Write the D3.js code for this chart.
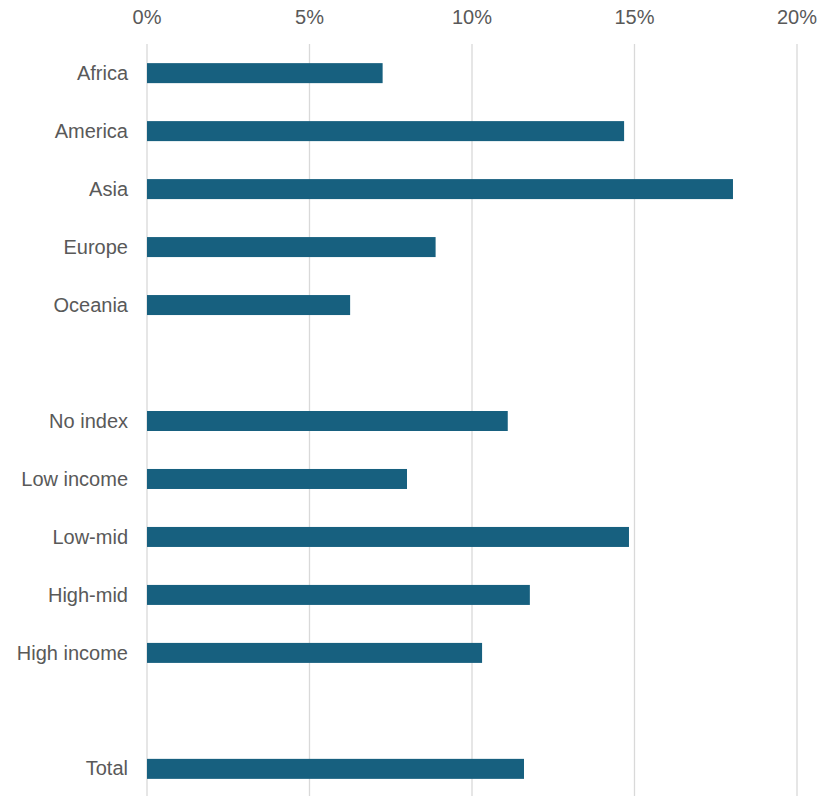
<!DOCTYPE html>
<html><head><meta charset="utf-8">
<script src="https://cdn.jsdelivr.net/npm/d3@7"></script>
<style>body{margin:0;background:#fff}</style>
</head><body>
<svg id="chart" width="830" height="796"></svg>
<script>
const categories = ["Africa","America","Asia","Europe","Oceania","","No index","Low income","Low-mid","High-mid","High income"," ","Total"];
const values = [7.25, 14.68, 18.03, 8.88, 6.25, null, 11.1, 8.0, 14.83, 11.78, 10.31, null, 11.6];
const tickValues = [0, 5, 10, 15, 20];

const svg = d3.select("#chart");
const x = d3.scaleLinear().domain([0, 20]).range([147, 797]);
const y = d3.scaleBand().domain(categories).range([44, 798]).paddingInner(0.655).paddingOuter(0.33);

const fontFam = "'Liberation Sans', Arial, sans-serif";

// gridlines
svg.append("g").selectAll("line").data(tickValues).join("line")
  .attr("x1", d => x(d)).attr("x2", d => x(d))
  .attr("y1", 44).attr("y2", 796)
  .attr("stroke", "#d9d9d9").attr("stroke-width", 1.3);

// top axis labels
svg.append("g").selectAll("text").data(tickValues).join("text")
  .attr("x", d => x(d)).attr("y", 24)
  .attr("text-anchor", "middle")
  .attr("font-family", fontFam).attr("font-size", 20)
  .attr("fill", "#595959")
  .text(d => d + "%");

// bars
const data = categories.map((c, i) => ({c, v: values[i]})).filter(d => d.v != null);
svg.append("g").selectAll("rect").data(data).join("rect")
  .attr("x", x(0)).attr("y", d => y(d.c))
  .attr("width", d => x(d.v) - x(0)).attr("height", y.bandwidth())
  .attr("fill", "#17607f");

// category labels
svg.append("g").selectAll("text").data(data).join("text")
  .attr("x", 128).attr("y", d => y(d.c) + y.bandwidth() / 2)
  .attr("dy", "0.33em")
  .attr("text-anchor", "end")
  .attr("font-family", fontFam).attr("font-size", 20)
  .attr("fill", "#595959")
  .text(d => d.c);
</script>
</body></html>
